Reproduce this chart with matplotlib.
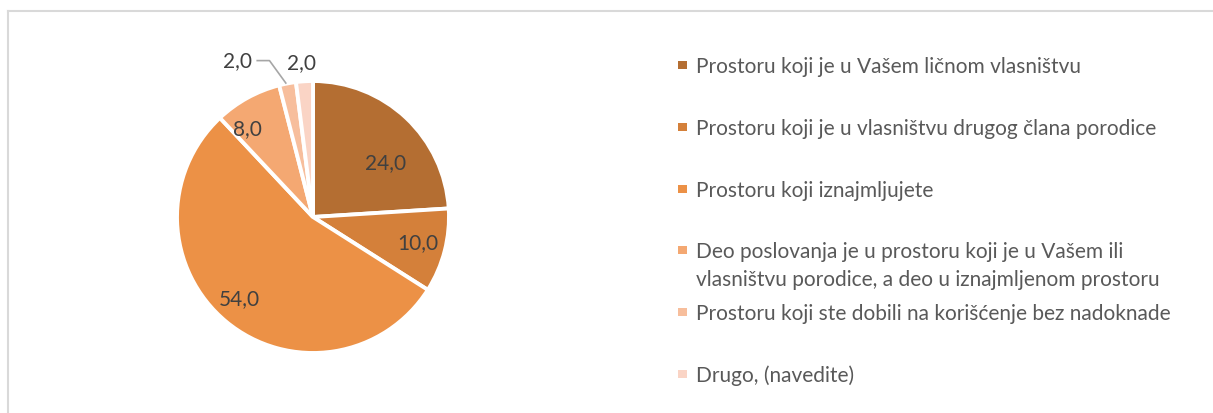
import matplotlib
matplotlib.use("Agg")
import matplotlib.pyplot as plt
from matplotlib.lines import Line2D
from matplotlib.patches import Rectangle

categories = [
    "Prostoru koji je u Vašem ličnom vlasništvu",
    "Prostoru koji je u vlasništvu drugog člana porodice",
    "Prostoru koji iznajmljujete",
    "Deo poslovanja je u prostoru koji je u Vašem ili\nvlasništvu porodice, a deo u iznajmljenom prostoru",
    "Prostoru koji ste dobili na korišćenje bez nadoknade",
    "Drugo, (navedite)",
]
values = [24.0, 10.0, 54.0, 8.0, 2.0, 2.0]
colors = ["#B46E32", "#D4803A", "#EC9146", "#F4A872", "#F7BE9C", "#FAD4C5"]

# label positions in pie units (radius = 1)
label_pos = [(0.53, 0.40), (0.77, -0.19), (-0.54, -0.60),
             (-0.48, 0.65), (-0.555, 1.15), (-0.085, 1.13)]

W, H = 1213, 413
fig = plt.figure(figsize=(W / 100, H / 100), dpi=100)
plt.rcParams['font.family'] = ['Lato', 'DejaVu Sans']

# chart border (top and left visible)
fig.add_artist(Line2D([7.5 / W, 7.5 / W], [1 - 10.5 / H, -0.1],
                      transform=fig.transFigure, color="#D9D9D9", lw=1.5))
fig.add_artist(Line2D([7.5 / W, 1.1], [1 - 10.5 / H, 1 - 10.5 / H],
                      transform=fig.transFigure, color="#D9D9D9", lw=1.5))

cx, cy, r = 313, 217, 136
ax = fig.add_axes([(cx - r) / W, (H - cy - r) / H, 2 * r / W, 2 * r / H])
ax.axis("off")

ax.pie(values, colors=colors, startangle=90, counterclock=False,
       radius=1, wedgeprops=dict(edgecolor="white", linewidth=2.8, clip_on=False))
ax.set_xlim(-1, 1)
ax.set_ylim(-1, 1)

for v, (x, y) in zip(values, label_pos):
    ax.text(x, y, f"{v:.1f}".replace(".", ","), ha="center", va="center",
            fontsize=15, color="#404040")

# leader line for the small slice label
ax.plot([-0.41, -0.32, -0.20], [1.15, 1.15, 0.985], color="#A6A6A6",
        lw=1.2, clip_on=False)

# legend drawn manually
y0 = 65
step = 61.8
for i, (cat, col) in enumerate(zip(categories, colors)):
    yc = y0 + i * step
    fig.add_artist(Rectangle((678 / W, 1 - (yc + 4) / H), 9 / W, 8 / H,
                             transform=fig.transFigure, facecolor=col,
                             edgecolor="none"))
    for j, line in enumerate(cat.split("\n")):
        fig.text(696 / W, 1 - (yc + 8 + j * 28) / H, line, ha="left",
                 va="baseline", fontsize=15, color="#595959")

fig.savefig("out.png", dpi=100)
